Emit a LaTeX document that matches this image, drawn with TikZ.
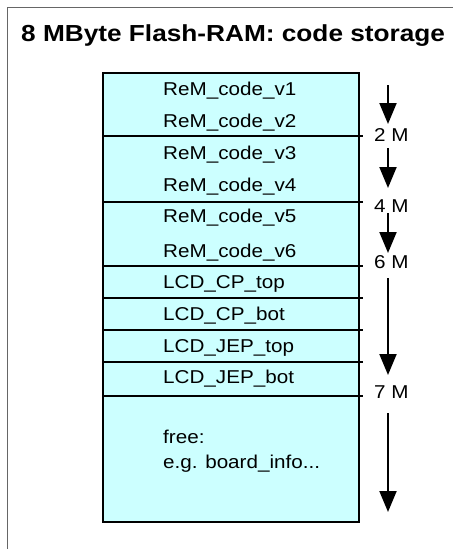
\documentclass[tikz,border=0pt]{standalone}
\usepackage{fontspec}
\setmainfont{Liberation Sans}
\newfontfamily\bodyfont{Liberation Sans}[FakeStretch=1.11]
\newfontfamily\headfont{Liberation Sans}[FakeStretch=1.13]
\usetikzlibrary{arrows.meta}
\definecolor{memfill}{HTML}{CCFFFF}
\definecolor{framegray}{HTML}{666666}
\tikzset{
  seglabel/.style={anchor=base west, inner sep=0pt, font=\bodyfont\fontsize{18.6}{22}\selectfont},
  addrlabel/.style={anchor=base west, inner sep=0pt, font=\bodyfont\fontsize{18.6}{22}\selectfont},
  divider/.style={line width=2pt},
  fillarrow/.style={line width=2pt, -{Triangle[width=17pt,length=21pt]}},
}
\begin{document}
\begin{tikzpicture}[x=1pt,y=-1pt]
\useasboundingbox (0,0) rectangle (453,549);
% outer frame (open to the right and bottom)
\draw[framegray, line width=1.5pt] (7.5,549) -- (7.5,7.5) -- (453,7.5);
% title
\node[anchor=base west, inner sep=0pt, font=\headfont\bfseries\fontsize{23.2}{28}\selectfont] (title) at (21,41.7) {8 MByte Flash-RAM: code storage};
% memory block
\coordinate (memtl) at (103,72.7);
\coordinate (membr) at (359,521.7);
\fill[memfill] (memtl) rectangle (membr);
\foreach \yy in {136,202,266,297.7,330,362,396}
  \draw[divider] (103,\yy) -- (363,\yy);
\draw[line width=2pt] (memtl) rectangle (membr);
% segment contents
\node[seglabel] (v1) at (163,95.3) {ReM\_code\_v1};
\node[seglabel] (v2) at (163,127) {ReM\_code\_v2};
\node[seglabel] (v3) at (163,159.5) {ReM\_code\_v3};
\node[seglabel] (v4) at (163,191.5) {ReM\_code\_v4};
\node[seglabel] (v5) at (163,222.5) {ReM\_code\_v5};
\node[seglabel] (v6) at (163,257) {ReM\_code\_v6};
\node[seglabel] (cptop) at (163,288.5) {LCD\_CP\_top};
\node[seglabel] (cpbot) at (163,320.5) {LCD\_CP\_bot};
\node[seglabel] (jeptop) at (163,352.5) {LCD\_JEP\_top};
\node[seglabel] (jepbot) at (163,383.5) {LCD\_JEP\_bot};
\node[seglabel] (free) at (163,443.5) {free:};
\node[seglabel] (board) at (163,468) {e.g. board\_info...};
% address marks
\node[addrlabel] (m2) at (374,141.7) {2 M};
\node[addrlabel] (m4) at (374,212) {4 M};
\node[addrlabel] (m6) at (374,268.5) {6 M};
\node[addrlabel] (m7) at (374,398.5) {7 M};
% direction arrows
\coordinate (a1s) at (388,85);  \coordinate (a1e) at (388,124);
\coordinate (a2s) at (388,148); \coordinate (a2e) at (388,188);
\coordinate (a3s) at (388,213); \coordinate (a3e) at (388,253);
\coordinate (a4s) at (388,278); \coordinate (a4e) at (388,375);
\coordinate (a5s) at (388,413); \coordinate (a5e) at (388,512);
\draw[fillarrow] (a1s) -- (a1e);
\draw[fillarrow] (a2s) -- (a2e);
\draw[fillarrow] (a3s) -- (a3e);
\draw[fillarrow] (a4s) -- (a4e);
\draw[fillarrow] (a5s) -- (a5e);
\end{tikzpicture}
\end{document}
